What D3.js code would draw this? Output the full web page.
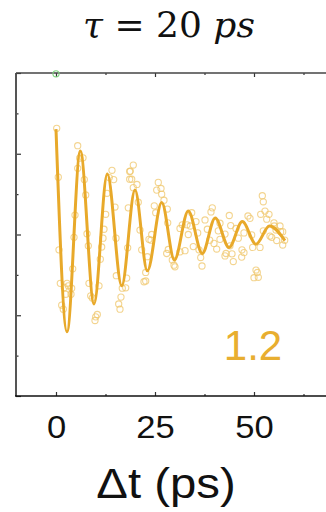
<!DOCTYPE html>
<html>
<head>
<meta charset="utf-8">
<script src="https://cdn.jsdelivr.net/npm/d3@7"></script>
<style>
  body { margin: 0; background: #fff; }
  svg { display: block; }
</style>
</head>
<body>
<div id="chart"></div>
<script>
const W = 326, H = 512;
const PLOT = { left: 16, top: 73, bottom: 396 };

// fitted damped oscillation: turning points (t in ps, signal in arb. units)
const fitT = [0, 2.78, 6.14, 9.6, 12.95, 16.6, 19.95, 23.06, 26.7, 29.9, 33.4, 36.94, 40.2, 43.7, 47.05, 50.5, 53.9, 57.8];
const fitV = [2.61, -2.41, 2.07, -1.72, 1.5, -1.27, 1.1, -0.9, 0.79, -0.63, 0.58, -0.47, 0.41, -0.32, 0.32, -0.24, 0.21, -0.15];

// measured points (hollow circles)
const dataT = [0.18, 5.48, 5.98, 6.82, 5.48, 0.58, 7.15, 14.14, 13.46, 14.57, 18.61, 18.61, 7.5, 12.88, 4.8, 12.55, 14.9, 18.26,
  7.83, 4.55, 12.12, 11.87, 15.15, 8.16, 11.54, 0.76, 18.1, 11.19, 4.22, 1.09, 2.78, 3.11, 2.1, 3.96, 2.45, 3.79, 8.33, 10.86,
  8.76, 9.17, 15.23, 17.85, 16.74, 17.6, 16.41, 15.83, 16.16, 1.44, 1.84, 10.43, 10.03, 9.85,
  19.52, 18.76, 19.12, 20.45, 19.52, 20.78, 21.21, 21.64, 23.06, 22.65, 22.22, 22.65, 25.83, 25.43, 26.52, 26.69, 27.27, 24.82,
  25.18, 28.11, 28.21, 24.17, 23.48, 23.99, 28.36, 27.95, 29.37, 29.8, 30.05, 31.31, 32.58, 31.31, 31.89, 33.41, 33.91, 33.08,
  34.27, 35.35, 34.67, 35.78, 36.11, 36.54, 36.87, 37.63, 38.21, 38.81, 39.47, 39.14, 39.9,
  41.41, 40.98, 41.41, 40.58, 43.76, 44.12, 42.68, 45.45, 46.04, 43.94, 42.93, 42.68, 44.44, 44.77, 46.97, 46.89, 47.47, 48.48,
  48.99, 49.42, 47.47, 49.67, 51.52, 50.51, 50.83, 50.0, 51.09, 52.1, 52.35, 51.69, 52.78, 53.79, 53.21, 55.05, 55.13, 55.56,
  56.57, 56.74, 57.25, 54.04, 54.47, 57.75, 57.25, 55.73, 52.35];
const dataV = [2.63, 2.2, 1.89, 1.9, 1.64, 1.42, 1.36, 1.59, 1.41, 1.36, 1.56, 1.37, 0.98, 1.02, 0.48, 0.5, 0.68, 0.66,
  0.02, -0.07, 0.13, -0.09, -0.09, -0.28, -0.31, -0.38, -0.33, -0.61, -0.85, -1.21, -1.21, -1.27, -1.31, -1.33, -1.48, -1.48, -1.21, -1.27,
  -1.52, -1.57, -1.02, -1.08, -1.33, -1.32, -1.55, -1.72, -1.85, -1.75, -1.85, -1.98, -2.04, -2.13,
  1.72, 1.57, 1.37, 1.24, 1.16, 0.8, 0.11, -0.38, -0.55, -0.94, -1.17, -1.15, 1.29, 1.1, 1.14, 1.0, 0.85, 0.71,
  0.54, 0.63, 0.29, 0.0, -0.12, -0.14, -0.37, -0.47, -0.63, -0.76, -0.8, -0.43, -0.4, 0.15, 0.24, 0.0, 0.21, 0.24,
  0.54, 0.32, -0.3, 0.04, -0.38, -0.57, -0.78, 0.36, 0.13, -0.14, 0.66, 0.56, -0.22,
  0.28, 0.09, -0.12, -0.36, 0.47, 0.22, 0.01, 0.15, -0.09, -0.28, -0.47, -0.53, -0.48, -0.67, -0.38, -0.56, -0.45, 0.46,
  0.4, -0.01, 0.04, -0.32, -0.32, -0.88, -0.94, -1.07, -1.06, 0.96, 0.81, 0.5, 0.58, 0.5, 0.38, 0.29, 0.21, 0.11,
  0.21, 0.07, 0.07, -0.04, -0.07, -0.14, -0.26, -0.15, 0.09];

// one off-scale point sitting on the top frame
const outT = [0];
const outV = [3.98];

const xMajor = [0, 25, 50], xMinor = [12.5, 37.5, 62.5];
const yMajor = [-4, -2, 0, 2, 4], yMinor = [-3, -1, 1, 3];
const label = "1.2";

const svg = d3.select("#chart").append("svg")
  .attr("width", W).attr("height", H);

const x = d3.scaleLinear().domain([-10.1, 70]).range([PLOT.left, PLOT.left + 80.1 * 3.96]);
const y = d3.scaleLinear().domain([-4, 4]).range([PLOT.bottom, PLOT.top]);

// title
const title = svg.append("text")
  .attr("x", 169).attr("y", 37)
  .attr("text-anchor", "middle")
  .style("font-family", "'DejaVu Serif', 'Liberation Serif', serif")
  .style("font-size", "36px")
  .attr("fill", "#111");
title.append("tspan").style("font-style", "italic").text("τ");
title.append("tspan").text(" = 20 ");
title.append("tspan").style("font-style", "italic").text("ps");

svg.append("defs").append("clipPath").attr("id", "clip")
  .append("rect").attr("x", PLOT.left).attr("y", PLOT.top)
  .attr("width", W - PLOT.left).attr("height", PLOT.bottom - PLOT.top);

const plot = svg.append("g").attr("clip-path", "url(#clip)");

const pts = dataT.map((t, i) => ({ t: t, v: dataV[i] }));
plot.selectAll("circle.pt").data(pts).enter().append("circle")
  .attr("class", "pt")
  .attr("cx", d => x(d.t)).attr("cy", d => y(d.v))
  .attr("r", 3.1)
  .attr("fill", "none")
  .attr("stroke", "#EFC569")
  .attr("stroke-opacity", 0.75)
  .attr("stroke-width", 1.1);

const fit = fitT.map((t, i) => ({ t: t, v: fitV[i] }));
plot.append("path").datum(fit)
  .attr("d", d3.line().x(d => x(d.t)).y(d => y(d.v)).curve(d3.curveMonotoneX))
  .attr("fill", "none")
  .attr("stroke", "#E8A92A")
  .attr("stroke-width", 3);

// frame + inward ticks
function ticks(gen, vals, size, tr) {
  const g = svg.append("g").attr("transform", tr)
    .call(gen.tickValues(vals).tickSize(size).tickSizeOuter(0).tickFormat(""));
  g.selectAll("path").attr("stroke", "none");
  g.selectAll("line").attr("stroke", "#333").attr("stroke-width", 1.2);
}
ticks(d3.axisRight(y), yMajor, 5, `translate(${PLOT.left},0)`);
ticks(d3.axisRight(y), yMinor, 2.5, `translate(${PLOT.left},0)`);
ticks(d3.axisTop(x), xMajor, 4, `translate(0,${PLOT.bottom})`);
ticks(d3.axisTop(x), xMinor, 2, `translate(0,${PLOT.bottom})`);
ticks(d3.axisBottom(x), xMajor, 4, `translate(0,${PLOT.top})`);
ticks(d3.axisBottom(x), xMinor, 2, `translate(0,${PLOT.top})`);

svg.append("line").attr("x1", PLOT.left).attr("x2", PLOT.left)
  .attr("y1", PLOT.top).attr("y2", PLOT.bottom)
  .attr("stroke", "#555").attr("stroke-width", 2);
svg.append("line").attr("x1", PLOT.left).attr("x2", W)
  .attr("y1", PLOT.top).attr("y2", PLOT.top)
  .attr("stroke", "#444").attr("stroke-width", 1.5);
svg.append("line").attr("x1", PLOT.left - 1).attr("x2", W)
  .attr("y1", PLOT.bottom).attr("y2", PLOT.bottom)
  .attr("stroke", "#111").attr("stroke-width", 1.5);

// out of range point
svg.selectAll("circle.out").data(outT).enter().append("circle")
  .attr("class", "out")
  .attr("cx", d => x(d)).attr("cy", (d, i) => y(outV[i]))
  .attr("r", 3.1).attr("fill", "none")
  .attr("stroke", "#7ED37E").attr("stroke-width", 1.1);

// tick labels
const xl = svg.append("g").attr("transform", `translate(0,${PLOT.bottom})`)
  .call(d3.axisBottom(x).tickValues(xMajor).tickSize(0).tickPadding(42));
xl.select(".domain").remove();
xl.selectAll("text")
  .style("font-family", "'Liberation Sans', Arial, sans-serif")
  .style("font-size", "32px")
  .attr("fill", "#111")
  .attr("dy", 0)
  .attr("transform", "scale(1.08,1)");

svg.append("text")
  .attr("transform", "translate(166,498) scale(1.1,1)")
  .attr("text-anchor", "middle")
  .style("font-family", "'Liberation Sans', Arial, sans-serif")
  .style("font-size", "43px")
  .attr("fill", "#111")
  .text("Δt (ps)");

svg.append("text")
  .attr("x", 253).attr("y", 360)
  .attr("text-anchor", "middle")
  .style("font-family", "'Liberation Sans', Arial, sans-serif")
  .style("font-size", "42px")
  .attr("fill", "#E8AE30")
  .text(label);
</script>
</body>
</html>
